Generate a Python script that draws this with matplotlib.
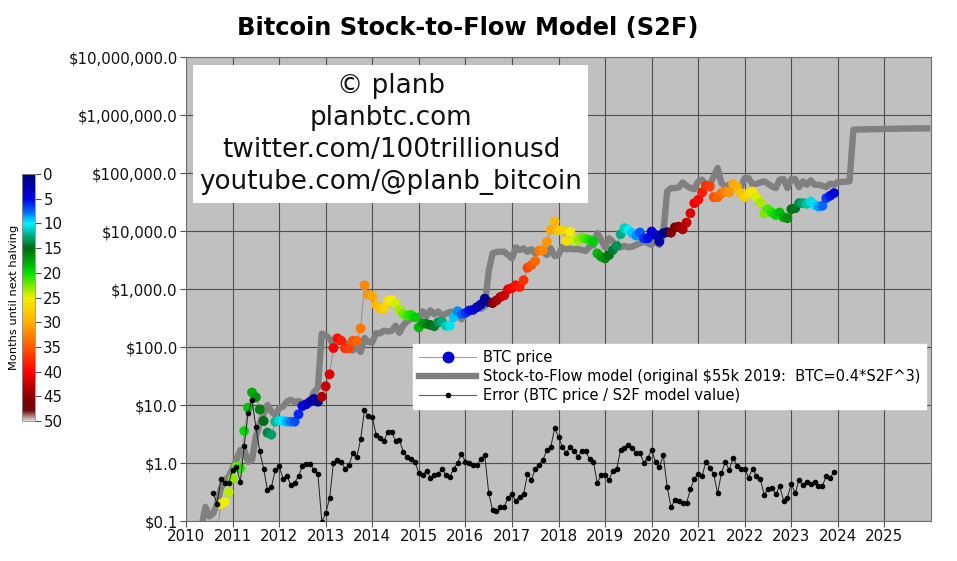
import numpy as np
import matplotlib
matplotlib.use("Agg")
import matplotlib.pyplot as plt
from matplotlib.colors import LinearSegmentedColormap
from matplotlib.lines import Line2D
from matplotlib.patches import Rectangle

# monthly values, first point Aug 2010
btc_price = [
    0.06, 0.06, 0.196, 0.215, 0.316, 0.537, 0.865, 0.81, 3.56, 9.0, 16.5, 13.6, 8.4, 5.3, 3.33, 3.08,
    5.16, 5.37, 5.37, 5.16, 5.16, 5.16, 6.9, 9.6, 10.3, 11.4, 12.7, 11.4, 13.9, 21.0, 33.8, 96,
    141, 128, 95, 95, 128, 128, 210, 1156, 788, 757, 530, 464, 464, 630, 646, 566, 434,
    372, 348, 358, 326, 218, 256, 250, 240, 228, 267, 274, 233, 233, 326, 414, 372, 387, 425, 437,
    486, 541, 680, 594, 571, 635, 727, 776, 987, 1040, 1159, 1083, 1415, 2317, 2582, 3027, 4581,
    4699, 6561, 10470, 14620, 10210, 10470, 6745, 9790, 7015, 7015, 7700, 7310, 7015, 6560, 4110,
    3605, 3373, 3855, 4700, 5520, 8810, 11200, 10470, 9160, 8350, 9410, 7500, 7500, 9790, 8570,
    6560, 9160, 9550, 9360, 11580, 11890, 10690, 13950, 20230, 30200, 34500, 46240, 60300, 58700,
    38370, 38370, 44980, 48080, 46240, 64400, 57150, 44980, 38370, 44980, 48080, 38370, 30970,
    20230, 23770, 20800, 18900, 20800, 17260, 16600, 23770, 24700, 30200, 30200, 29400, 32300,
    28250, 26400, 27170, 36800, 40500, 45000,
]
error_ratio = [
    0.31, 0.196, 0.54, 0.46, 0.46, 0.76, 0.86, 0.47, 2.0, 7.2, 12.2, 4.2, 1.6, 0.80, 0.34, 0.38,
    0.75, 0.88, 0.54, 0.60, 0.42, 0.46, 0.59, 0.89, 0.96, 0.96, 0.76, 0.64, 0.098, 0.136, 0.245, 1.0,
    1.13, 1.03, 0.80, 0.92, 1.47, 1.25, 2.56, 8.1, 6.46, 6.3, 3.04, 2.7, 2.43, 3.38, 3.42, 2.43, 2.46,
    1.57, 1.25, 1.16, 1.03, 0.68, 0.62, 0.74, 0.56, 0.62, 0.65, 0.79, 0.62, 0.58, 0.80, 1.0, 1.45,
    1.05, 0.99, 0.94, 0.92, 1.19, 1.36, 0.31, 0.153, 0.149, 0.173, 0.173, 0.254, 0.29, 0.222, 0.264,
    0.29, 0.64, 0.51, 0.79, 0.94, 1.14, 1.66, 1.89, 3.94, 2.86, 1.89, 1.49, 1.92, 1.64, 1.29, 1.61,
    1.61, 1.16, 1.05, 0.45, 0.61, 0.61, 0.51, 0.74, 0.80, 1.68, 1.85, 2.05, 1.80, 1.49, 1.49, 1.01,
    1.22, 1.70, 1.04, 0.84, 1.38, 0.39, 0.175, 0.228, 0.222, 0.202, 0.205, 0.35, 0.535, 0.65, 0.60,
    1.05, 0.83, 0.64, 0.30, 0.67, 1.05, 0.75, 1.24, 0.90, 0.80, 0.79, 0.56, 0.80, 0.60, 0.53, 0.286,
    0.35, 0.37, 0.29, 0.40, 0.225, 0.254, 0.44, 0.30, 0.51, 0.41, 0.47, 0.43, 0.47, 0.40, 0.40, 0.60,
    0.56, 0.70,
]
# model starts a bit earlier than the price, May 2010
s2f_model = [
    0.08, 0.176, 0.12, 0.135, 0.2, 0.37, 0.51, 0.58, 0.8, 1.13, 1.67, 1.67, 1.05, 1.13, 2.85, 4.8,
    7.2, 10, 7.7, 6.7, 8.8, 9.4, 11.4, 12.3, 11.2, 11.7, 10.8, 10.7, 11.9, 16.7, 20, 170, 160, 138,
    110, 125, 124, 119, 103, 87, 102, 82, 143, 122, 120, 174, 172, 191, 186, 189, 233, 176,
    237, 278, 309, 316, 320, 413, 338, 429, 368, 410, 347, 376, 402, 407, 414, 300, 369, 429, 465,
    528, 455, 500, 2000, 4120, 4340, 4400, 4400, 3850, 3370, 5230, 4700, 5030, 4400, 4830, 4120,
    4700, 4400, 3850, 5030, 3700, 3850, 5380, 4830, 4960, 4830, 4890, 4700, 4520, 5380, 5750, 9200,
    7000, 5230, 7500, 6560, 5380, 5230, 5530, 5230, 5380, 5750, 6150, 6560, 6150, 5750, 7000, 5750,
    9000, 48000, 55000, 55000, 56400, 68800, 60300, 55000, 52900, 71600, 76600, 62800, 62800, 87000,
    122000, 67000, 58700, 62800, 60300, 57100, 57100, 81800, 81800, 62800, 65300, 68800, 71600, 65300,
    58700, 55000, 76600, 78700, 55000, 78700, 78700, 57100, 71600, 62800, 74600, 62800, 62800, 60300,
    57100, 65300, 62800, 70000, 70000, 71000, 72000, 560000, 562000, 564000, 566000, 568000, 570000,
    572000, 574000, 576000, 578000, 579000, 580000, 582000, 583000, 584000, 585000, 586000, 587000,
    588000, 589000,
]
halvings = [2012.91, 2016.53, 2020.36, 2024.30]

year_ticks = list(range(2010, 2026))
price_ticks = [0.1, 1, 10, 100, 1000, 10000, 100000, 1000000, 10000000]
price_labels = ["$0.1", "$1.0", "$10.0", "$100.0", "$1,000.0", "$10,000.0", "$100,000.0",
                "$1,000,000.0", "$10,000,000.0"]
bar_ticks = [0, 5, 10, 15, 20, 25, 30, 35, 40, 45, 50]
credit_lines = ["\u00a9 planb", "planbtc.com", "twitter.com/100trillionusd", "youtube.com/@planb_bitcoin"]

W, H = 957, 561
halving_cmap = LinearSegmentedColormap.from_list("halving", [
    (0.00, "#00007a"), (0.10, "#0000e6"), (0.16, "#0080ff"), (0.20, "#00f0ff"), (0.25, "#00a878"),
    (0.30, "#006a10"), (0.40, "#00e000"), (0.50, "#f0f000"), (0.60, "#ffb000"), (0.70, "#ff5a00"),
    (0.80, "#ff0000"), (0.92, "#7a0000"), (0.96, "#700808"), (1.00, "#d8d8d8"),
])

price_x = 2010 + (7 + np.arange(len(btc_price))) / 12
error_x = 2010 + (7 + np.arange(len(error_ratio))) / 12
s2f_x = 2010 + (4 + np.arange(len(s2f_model))) / 12
months_left = [min(h - x for h in halvings if h > x) * 12 for x in price_x]

fig = plt.figure(figsize=(W / 100, H / 100), dpi=100)
ax = fig.add_axes([186 / W, 1 - 521 / H, 745 / W, 464 / H])
ax.set_facecolor("#c0c0c0")
ax.set_yscale("log")
ax.set_xlim(2010, 2026)
ax.set_ylim(0.1, 1e7)

ax.grid(True, color="#505050", lw=0.8)
ax.set_axisbelow(True)
ax.set_xticks(year_ticks)
ax.set_yticks(price_ticks)
ax.set_yticklabels(price_labels)
ax.minorticks_off()
ax.tick_params(labelsize=10.8, length=4, color="#505050", pad=2, labelcolor="#111111")
for s in ax.spines.values():
    s.set_color("#707070")

ax.plot(s2f_x, s2f_model, color="#808080", lw=4.6, solid_joinstyle="round", zorder=2)
ax.plot(price_x, btc_price, color="#909090", lw=0.7, zorder=3)
ax.scatter(price_x, btc_price, c=months_left, cmap=halving_cmap, vmin=0, vmax=50, s=50,
           linewidths=0, zorder=4)
ax.plot(error_x, error_ratio, color="#202020", lw=0.7, marker="o", ms=3.0, mfc="black", mec="black", zorder=5)

handles = [
    Line2D([], [], color="#a0a0a0", lw=0.8, marker="o", ms=7.5, mfc="#0000d0", mec="#0000d0"),
    Line2D([], [], color="#808080", lw=4.6),
    Line2D([], [], color="#606060", lw=0.8, marker="o", ms=3, mfc="black", mec="black"),
]
labels = ["BTC price", "Stock-to-Flow model (original $55k 2019:  BTC=0.4*S2F^3)",
          "Error (BTC price / S2F model value)"]
leg = ax.legend(handles, labels, loc="upper left", bbox_to_anchor=((413 - 186) / 745, (521 - 344) / 464),
                borderaxespad=0, fontsize=10.5, fancybox=False, framealpha=1, edgecolor="white",
                handlelength=3.9, handletextpad=0.45, labelspacing=0.28, borderpad=0.42)
leg.set_zorder(6)

fig.add_artist(Rectangle((193 / W, 1 - 203 / H), 395 / W, 138 / H, transform=fig.transFigure,
                         fc="white", ec="none", zorder=6))
fig.text(391 / W, 1 - 134 / H, "\n".join(credit_lines), ha="center", va="center", fontsize=18.9,
         linespacing=1.31, color="#111111", zorder=7)
fig.text(468 / W, 1 - 28 / H, "Bitcoin Stock-to-Flow Model (S2F)", ha="center", va="center",
         fontsize=17.4, fontweight="bold")

cax = fig.add_axes([22 / W, 1 - 421 / H, 13 / W, 247 / H])
norm = plt.Normalize(0, 50)
cb = fig.colorbar(plt.cm.ScalarMappable(norm=norm, cmap=halving_cmap), cax=cax)
cb.set_ticks(bar_ticks)
cax.invert_yaxis()
cax.tick_params(labelsize=10.8, length=4, pad=2, color="#505050", labelcolor="#111111")
cb.outline.set_edgecolor("#909090")
cb.outline.set_linewidth(0.6)
fig.text(14 / W, 1 - 297 / H, "Months until next halving", rotation=90, ha="center", va="center", fontsize=8.2)

fig.savefig("out.png", dpi=100, facecolor="white")
